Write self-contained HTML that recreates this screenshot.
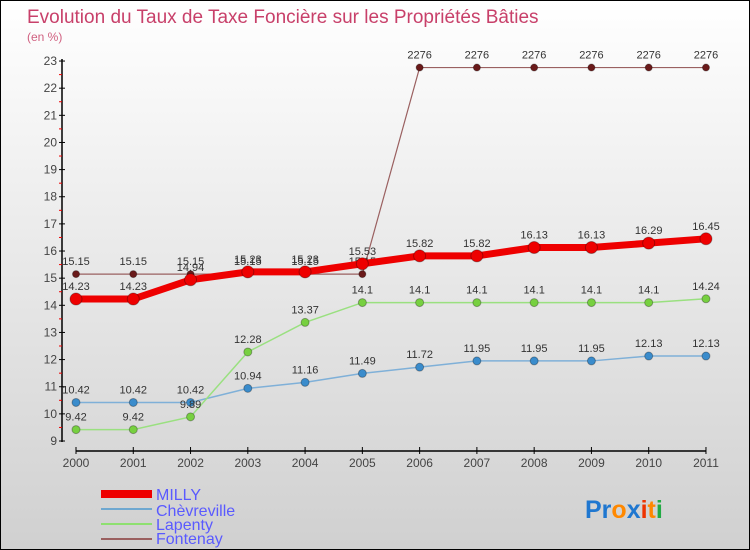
<!DOCTYPE html>
<html><head><meta charset="utf-8"><style>
body{margin:0}
#c{width:750px;height:550px;position:relative;box-sizing:border-box;border:1px solid #000;background:linear-gradient(#ffffff,#d0d0d0);overflow:hidden;font-family:"Liberation Sans",sans-serif}
svg text{font-family:"Liberation Sans",sans-serif}
</style></head><body>
<div id="c">
<svg id="s" width="750" height="550">
<text x="26" y="22" font-size="19" fill="#c8406a">Evolution du Taux de Taxe Foncière sur les Propriétés Bâties</text>
<text x="26" y="40" font-size="12" fill="#d06080">(en %)</text>
<g id="g"></g>
<g>
<rect x="100" y="489" width="51" height="8" fill="#ee0000"/>
<text x="155" y="499" font-size="16" fill="#5a5aff">MILLY</text>
<line x1="100" y1="508" x2="151" y2="508" stroke="#6fa8d0" stroke-width="2"/>
<text x="155" y="515" font-size="16" fill="#5a5aff">Chèvreville</text>
<line x1="100" y1="523" x2="151" y2="523" stroke="#8ee070" stroke-width="2"/>
<text x="155" y="529" font-size="16" fill="#5a5aff">Lapenty</text>
<line x1="100" y1="538" x2="151" y2="538" stroke="#9a6060" stroke-width="2"/>
<text x="155" y="543" font-size="16" fill="#5a5aff">Fontenay</text>
</g>
<g font-size="25" font-weight="600">
<text x="584" y="517"><tspan fill="#1f77d0">Pr</tspan><tspan fill="#ff8800">o</tspan><tspan fill="#1f77d0">x</tspan><tspan fill="#ee3300">i</tspan><tspan fill="#ff8800">t</tspan><tspan fill="#22aa44">i</tspan></text>
</g>
</svg>
</div>
<script>
const years=["2000","2001","2002","2003","2004","2005","2006","2007","2008","2009","2010","2011"];
const yTicks=[9,10,11,12,13,14,15,16,17,18,19,20,21,22,23];
const milly=[14.23,14.23,14.94,15.23,15.23,15.53,15.82,15.82,16.13,16.13,16.29,16.45];
const chevreville=[10.42,10.42,10.42,10.94,11.16,11.49,11.72,11.95,11.95,11.95,12.13,12.13];
const lapenty=[9.42,9.42,9.89,12.28,13.37,14.1,14.1,14.1,14.1,14.1,14.1,14.24];
const fontenay=[15.15,15.15,15.15,15.15,15.15,15.15,22.76,22.76,22.76,22.76,22.76,22.76];
const fontenayLbl=["15.15","15.15","15.15","15.15","15.15","15.15","2276","2276","2276","2276","2276","2276"];
const NS="http://www.w3.org/2000/svg";
const g=document.getElementById('g');
const X=i=>75+i*57.27, Y=v=>440-(v-9)*27.14;
function el(t,a,p){const e=document.createElementNS(NS,t);for(const k in a)e.setAttribute(k,a[k]);(p||g).appendChild(e);return e;}
let ax=el('line',{x1:61,y1:58,x2:61,y2:441,stroke:'#000','stroke-width':1.5});


let xa=el('line',{x1:75,y1:450,x2:705,y2:450,stroke:'#000','stroke-width':1.5});


yTicks.forEach(v=>{
 el('line',{x1:58,y1:Y(v),x2:64,y2:Y(v),stroke:'#000'});
 if(v<23) el('line',{x1:58,y1:Y(v+0.5),x2:61,y2:Y(v+0.5),stroke:'#e00'});
 const t=el('text',{x:56,y:Y(v)+4,'font-size':12,'text-anchor':'end',fill:'#444'});
 t.textContent=v;
 
 
});
years.forEach((y,i)=>{
 el('line',{x1:X(i),y1:446,x2:X(i),y2:453,stroke:'#000'});
 const t=el('text',{x:X(i),y:466,'font-size':12,'text-anchor':'middle',fill:'#444'});
 t.textContent=y;
 
 
});
function series(name,vals,col,dot,w,r,lbls,fs){
 const s=el('g',{});
 
 
 el('polyline',{points:vals.map((v,i)=>X(i)+','+Y(v)).join(' '),fill:'none',stroke:col,'stroke-width':w},s);
 vals.forEach((v,i)=>{
  const c=el('circle',{cx:X(i),cy:Y(v),r:r,fill:dot,stroke:'rgba(0,0,0,0.3)'},s);
  
  
  const t=el('text',{x:X(i),y:Y(v)-9,'font-size':fs,'text-anchor':'middle',fill:'#333'},s);
  t.textContent=lbls?lbls[i]:String(v);
  
  
 });
}
series('fontenay',fontenay,'#9a6060','#6a1a1a',1.2,3.5,fontenayLbl,11);
series('chevreville',chevreville,'#7fb0d8','#3a8ccc',1.5,4,null,11);
series('lapenty',lapenty,'#9ae080','#77d040',1.5,4,null,11);
series('milly',milly,'#ee0000','#ee0000',7,6,null,11);
</script>
</body></html>
